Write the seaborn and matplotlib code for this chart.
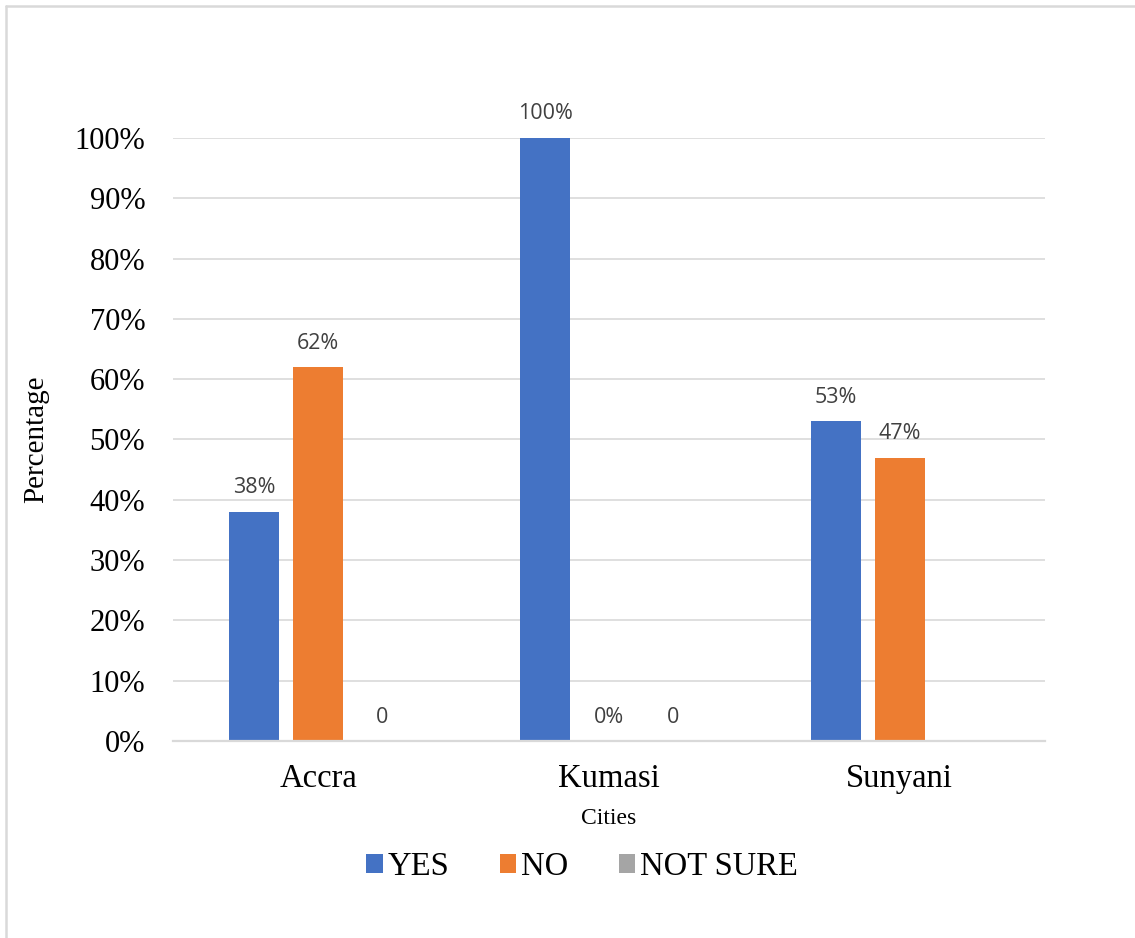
import matplotlib
matplotlib.use("Agg")
import matplotlib.pyplot as plt
import seaborn as sns
import pandas as pd
from matplotlib.lines import Line2D
from matplotlib.patches import Patch

cities = ["Accra", "Kumasi", "Sunyani"]
responses = ["YES", "NO", "NOT SURE"]
yes_pct = [38, 100, 53]
no_pct = [62, 0, 47]
not_sure_pct = [0, 0, 0]
# value labels per city, in response order (None = no label)
value_labels = [
    ["38%", "62%", "0"],
    ["100%", "0%", "0"],
    ["53%", "47%", None],
]
colors = ["#4472C4", "#ED7D31", "#A5A5A5"]
yticks = list(range(0, 101, 10))

rows = []
for i, c in enumerate(cities):
    for r, vals in zip(responses, [yes_pct, no_pct, not_sure_pct]):
        rows.append({"City": c, "Response": r, "Pct": vals[i]})
df = pd.DataFrame(rows)

sns.set_theme(style="white")
serif = ["Liberation Serif", "DejaVu Serif"]
plt.rcParams["font.family"] = serif

fig = plt.figure(figsize=(11.35, 9.38), dpi=100)
ax = fig.add_axes([0.1524, 0.21, 0.7683, 0.6429])

sns.barplot(data=df, x="City", y="Pct", hue="Response", order=cities,
            hue_order=responses, palette=colors, width=0.66, gap=0.22,
            saturation=1, legend=False, linewidth=0, edgecolor="none", ax=ax)

ax.set_ylim(0, 100)
ax.set_xlim(-0.5, 2.5)
ax.set_yticks(yticks)
ax.set_yticklabels([f"{t}%" for t in yticks], fontsize=22, color="black")
ax.tick_params(axis="x", labelsize=23.5, labelcolor="black", length=0, pad=16)
ax.tick_params(axis="y", length=0, pad=20)
ax.grid(axis="y", color="#d9d9d9", linewidth=1.2)
ax.set_axisbelow(True)
for s in ["top", "right", "left"]:
    ax.spines[s].set_visible(False)
ax.spines["bottom"].set_color("#d9d9d9")
ax.spines["bottom"].set_linewidth(1.6)

ax.set_xlabel("Cities", fontsize=17, color="black", labelpad=10)
ax.set_ylabel("Percentage", fontsize=21, color="black", labelpad=18)

# value labels above each bar
for h, cont in enumerate(ax.containers):
    for i, bar in enumerate(cont):
        lab = value_labels[i][h]
        if lab is None:
            continue
        x = bar.get_x() + bar.get_width() / 2
        ax.annotate(lab, (x, bar.get_height()), xytext=(0, 24),
                    textcoords="offset pixels",
                    ha="center", va="center", fontsize=15.5,
                    family=["Open Sans", "DejaVu Sans"], color="#404040")

handles = [Patch(facecolor=c, edgecolor="none") for c in colors]
fig.legend(handles, responses, loc="center", bbox_to_anchor=(0.513, 0.076),
           ncol=3, frameon=False, fontsize=23.5, labelcolor="black",
           handlelength=0.5, handleheight=0.5, handletextpad=0.15,
           columnspacing=1.55)

# light frame along the top and left edges
fig.add_artist(Line2D([6 / 1135, 1], [1 - 6 / 938, 1 - 6 / 938],
                      transform=fig.transFigure, color="#d9d9d9", lw=1.8))
fig.add_artist(Line2D([6 / 1135, 6 / 1135], [0, 1 - 6 / 938],
                      transform=fig.transFigure, color="#d9d9d9", lw=1.8))

fig.savefig("out.png", dpi=100, facecolor="white")
